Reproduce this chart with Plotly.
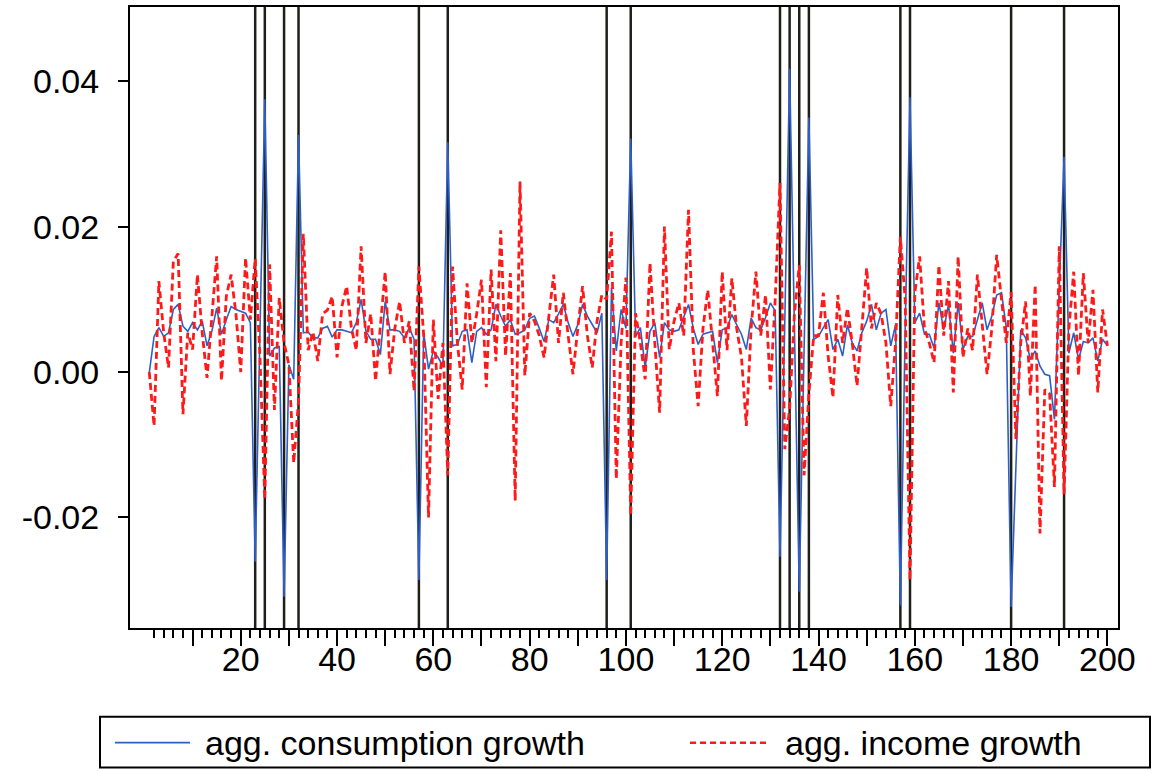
import plotly.graph_objects as go

# observation index
obs = list(range(1, 201))

consumption_growth = [
    -0.0001, 0.0049, 0.0061, 0.0049, 0.0054, 0.0086, 0.0093, 0.0063, 0.0056, 0.0068,
    0.0058, 0.0070, 0.0036, 0.0056, 0.0088, 0.0052, 0.0072, 0.0090, 0.0086, 0.0084,
    0.0081, 0.0068, -0.0261, 0.0057, 0.0375, 0.0022, 0.0033, 0.0035, -0.0309, 0.0010,
    -0.0010, 0.0326, 0.0054, 0.0055, 0.0047, 0.0047, 0.0060, 0.0063, 0.0048, 0.0058,
    0.0058, 0.0056, 0.0054, 0.0068, 0.0100, 0.0056, 0.0045, 0.0045, 0.0024, 0.0097,
    0.0058, 0.0058, 0.0056, 0.0047, 0.0061, 0.0045, -0.0286, 0.0054, 0.0004, 0.0029,
    0.0020, 0.0008, 0.0316, 0.0036, 0.0038, 0.0056, 0.0058, 0.0013, 0.0056, 0.0061,
    0.0052, 0.0058, 0.0093, 0.0077, 0.0063, 0.0072, 0.0052, 0.0054, 0.0058, 0.0074,
    0.0077, 0.0060, 0.0042, 0.0072, 0.0068, 0.0080, 0.0093, 0.0068, 0.0049, 0.0065,
    0.0093, 0.0077, 0.0065, 0.0054, 0.0081, -0.0286, 0.0116, 0.0029, 0.0086, 0.0060,
    0.0321, 0.0049, 0.0061, 0.0006, 0.0056, 0.0068, 0.0020, 0.0068, 0.0058, 0.0056,
    0.0058, 0.0077, 0.0093, 0.0060, 0.0038, 0.0052, 0.0054, 0.0056, 0.0013, 0.0058,
    0.0061, 0.0079, 0.0065, 0.0052, 0.0031, 0.0074, 0.0061, 0.0058, 0.0075, 0.0095,
    0.0084, -0.0254, 0.0070, 0.0417, 0.0060, -0.0302, 0.0030, 0.0350, 0.0045, 0.0049,
    0.0061, 0.0072, 0.0031, 0.0045, 0.0022, 0.0065, 0.0040, 0.0029, 0.0054, 0.0070,
    0.0093, 0.0058, 0.0081, 0.0086, 0.0036, 0.0065, -0.0321, 0.0060, 0.0378, 0.0068,
    0.0081, 0.0052, 0.0052, 0.0033, 0.0095, 0.0058, 0.0093, 0.0026, 0.0095, 0.0031,
    0.0049, 0.0049, 0.0072, 0.0095, 0.0058, 0.0077, 0.0106, 0.0109, 0.0061, -0.0323,
    -0.0130, 0.0058, 0.0047, 0.0017, 0.0029, 0.0008, -0.0003, -0.0005, -0.0065, 0.0110,
    0.0296, 0.0026, 0.0054, 0.0017, 0.0042, 0.0040, 0.0047, 0.0015, 0.0045, 0.0036,
]

income_growth = [
    0.0000, -0.0074, 0.0125, 0.0054, 0.0006, 0.0152, 0.0163, -0.0058, 0.0054, 0.0031,
    0.0134, 0.0054, -0.0008, 0.0072, 0.0159, -0.0012, 0.0104, 0.0134, 0.0080, 0.0000,
    0.0157, 0.0072, 0.0156, 0.0020, -0.0175, 0.0148, -0.0052, 0.0102, 0.0040, 0.0010,
    -0.0125, -0.0040, 0.0190, 0.0030, 0.0055, 0.0015, 0.0080, 0.0085, 0.0104, 0.0020,
    0.0090, 0.0118, 0.0060, 0.0030, 0.0173, 0.0040, 0.0080, -0.0012, 0.0060, 0.0138,
    -0.0003, 0.0060, 0.0097, 0.0040, 0.0070, -0.0026, 0.0145, 0.0050, -0.0200, 0.0072,
    -0.0037, 0.0040, -0.0142, 0.0145, 0.0040, -0.0024, 0.0122, 0.0040, 0.0080, 0.0127,
    -0.0021, 0.0141, 0.0015, 0.0195, 0.0022, 0.0136, -0.0177, 0.0262, -0.0005, 0.0081,
    0.0070, 0.0050, 0.0020, 0.0080, 0.0134, 0.0040, 0.0109, 0.0050, -0.0003, 0.0060,
    0.0118, 0.0050, 0.0006, 0.0070, 0.0106, 0.0100, 0.0193, -0.0147, 0.0040, 0.0130,
    -0.0197, 0.0081, 0.0040, -0.0010, 0.0150, 0.0040, -0.0056, 0.0200, 0.0031, 0.0070,
    0.0095, 0.0050, 0.0223, 0.0030, -0.0047, 0.0060, 0.0113, 0.0040, -0.0033, 0.0138,
    0.0030, 0.0129, 0.0060, 0.0020, -0.0074, 0.0060, 0.0138, 0.0050, 0.0106, -0.0024,
    0.0100, 0.0260, -0.0106, -0.0050, 0.0080, 0.0147, -0.0142, -0.0030, 0.0050, 0.0050,
    0.0109, 0.0022, -0.0035, 0.0106, 0.0040, 0.0088, 0.0040, -0.0019, 0.0060, 0.0143,
    0.0060, 0.0095, 0.0080, 0.0040, -0.0047, 0.0040, 0.0186, 0.0100, -0.0286, 0.0109,
    0.0159, 0.0060, 0.0040, 0.0013, 0.0147, 0.0050, 0.0125, -0.0028, 0.0159, 0.0020,
    0.0060, 0.0030, 0.0134, 0.0070, -0.0003, 0.0060, 0.0161, 0.0100, 0.0040, 0.0110,
    -0.0092, 0.0040, 0.0097, -0.0033, 0.0120, -0.0222, -0.0024, -0.0030, -0.0158, 0.0173,
    -0.0168, 0.0060, 0.0138, -0.0005, 0.0136, 0.0040, 0.0113, -0.0028, 0.0086, 0.0036,
]

# observations marked with vertical lines
break_obs = [23, 25, 29, 32, 57, 63, 96, 101, 132, 134, 136, 138, 157, 159, 180, 191]

# axis ticks
y_tickvals = [-0.02, 0.00, 0.02, 0.04]
y_ticktext = ["-0.02", "0.00", "0.02", "0.04"]
x_major = list(range(10, 201, 10))
x_labels = [str(v) if v % 20 == 0 else "" for v in x_major]
x_minor = [v for v in range(2, 201, 2) if v % 10 != 0]

series_names = ["agg. consumption growth", "agg. income growth"]
BLUE = "#2f5fc4"
RED = "#ff1a1a"
FONT = "Liberation Sans, Arial, sans-serif"

fig = go.Figure()
fig.add_trace(go.Scatter(x=obs, y=consumption_growth, mode="lines",
                         name=series_names[0], showlegend=False,
                         line=dict(color=BLUE, width=1.6)))
fig.add_trace(go.Scatter(x=obs, y=income_growth, mode="lines",
                         name=series_names[1], showlegend=False,
                         line=dict(color=RED, width=2.8, dash="7px,4px")))

for b in break_obs:
    fig.add_vline(x=b, line=dict(color="#1e1e1a", width=2.5), layer="below")

# plot area geometry (pixels) for the hand-built legend
W, H = 1156, 771
L, R, T, B = 130, 38, 5, 143
pw, ph = W - L - R, H - T - B


def px_x(p):
    return (p - L) / pw


def px_y(p):
    return (H - B - p) / ph


# legend box
fig.add_shape(type="rect", xref="paper", yref="paper",
              x0=px_x(100), x1=px_x(1150), y0=px_y(768), y1=px_y(717),
              line=dict(color="black", width=2), fillcolor="white")
fig.add_shape(type="line", xref="paper", yref="paper",
              x0=px_x(115), x1=px_x(190), y0=px_y(743), y1=px_y(743),
              line=dict(color=BLUE, width=1.6))
fig.add_shape(type="line", xref="paper", yref="paper",
              x0=px_x(690), x1=px_x(770), y0=px_y(743), y1=px_y(743),
              line=dict(color=RED, width=2.5, dash="6px,4px"))
fig.add_annotation(xref="paper", yref="paper", x=px_x(203), y=px_y(743),
                   xanchor="left", yanchor="middle", showarrow=False,
                   text=series_names[0], font=dict(size=34, color="black", family=FONT))
fig.add_annotation(xref="paper", yref="paper", x=px_x(783), y=px_y(743),
                   xanchor="left", yanchor="middle", showarrow=False,
                   text=series_names[1], font=dict(size=34, color="black", family=FONT))

fig.update_layout(
    width=W, height=H,
    margin=dict(l=L, r=R, t=T, b=B),
    paper_bgcolor="white", plot_bgcolor="white",
    font=dict(family=FONT, size=34, color="black"),
    showlegend=False,
    xaxis=dict(range=[-3.0, 202.2], showgrid=False, zeroline=False,
               showline=True, linecolor="black", linewidth=2, mirror=True,
               tickmode="array", tickvals=x_major, ticktext=x_labels,
               ticks="outside", ticklen=16, tickwidth=1.5, tickcolor="black",
               ticklabelstandoff=-16,
               minor=dict(tickmode="array", tickvals=x_minor, ticks="outside",
                          ticklen=8, tickwidth=1.5, tickcolor="black"),
               tickfont=dict(size=34)),
    yaxis=dict(range=[-0.0352, 0.0502], showgrid=False, zeroline=False,
               showline=True, linecolor="black", linewidth=2, mirror=True,
               tickmode="array", tickvals=y_tickvals, ticktext=y_ticktext,
               ticks="outside", ticklen=10, tickwidth=1.5, tickcolor="black",
               ticklabelstandoff=12, tickfont=dict(size=34)),
)

fig.write_html("out.html")
